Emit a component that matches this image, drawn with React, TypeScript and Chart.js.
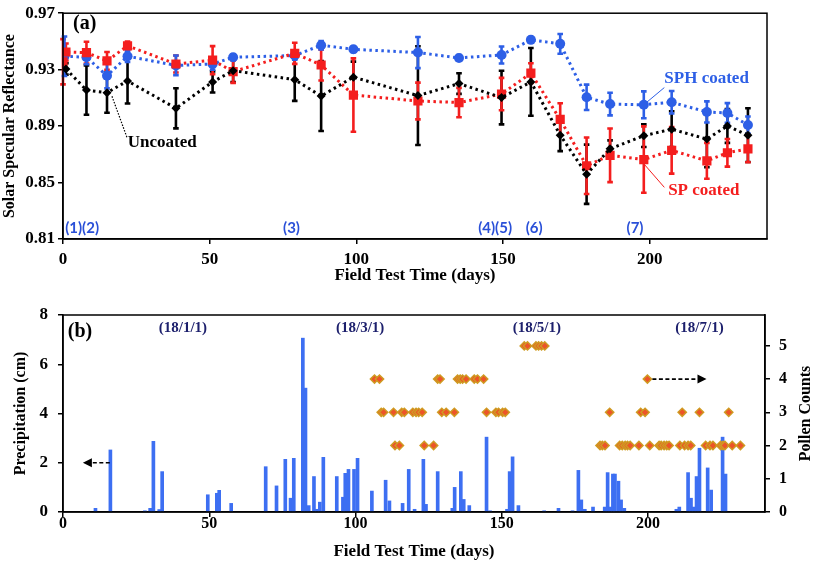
import React, { useEffect, useRef } from "react";
import { Chart, registerables } from "chart.js";
Chart.register(...registerables);

const SERIF = "'Liberation Serif', 'Times New Roman', serif";
const SANS = "Lato, 'Open Sans', sans-serif";

// ---------- Panel (a) data ----------
const xTicks = [0, 50, 100, 150, 200];
const reflTicks = [0.81, 0.85, 0.89, 0.93, 0.97];

const uncDays = [1, 8, 15, 22, 38.5, 51, 58, 79, 88, 99, 121, 135, 149.5, 159.5, 169.5, 178.5, 186.5, 198, 207.5, 219.5, 226.5, 233.5];
const uncVals = [0.9305, 0.9155, 0.9137, 0.922, 0.9026, 0.9213, 0.9293, 0.9229, 0.9113, 0.9247, 0.9116, 0.9201, 0.9102, 0.9213, 0.8836, 0.8559, 0.8739, 0.8832, 0.8878, 0.8808, 0.8901, 0.8836];
const uncErr = [0.004, 0.0175, 0.0142, 0.016, 0.0142, 0.0075, 0.008, 0.015, 0.0248, 0.011, 0.035, 0.0073, 0.019, 0.024, 0.0113, 0.021, 0.006, 0.008, 0.0127, 0.02, 0.012, 0.019];

const spDays = [0, 1, 8, 15, 22, 38.5, 51, 58, 79, 88, 99, 121, 135, 149.5, 159.5, 169.5, 178.5, 186.5, 198, 207.5, 219.5, 226.5, 233.5];
const spVals = [0.9356, 0.9425, 0.9421, 0.9362, 0.9469, 0.934, 0.9367, 0.9286, 0.9416, 0.9333, 0.912, 0.9078, 0.9067, 0.9127, 0.9275, 0.8947, 0.8619, 0.8693, 0.8663, 0.8728, 0.8654, 0.8711, 0.8739];
const spErr = [0.016, 0.006, 0.0077, 0.0063, 0.003, 0.006, 0.01, 0.008, 0.0075, 0.011, 0.026, 0.013, 0.0104, 0.0115, 0.007, 0.0115, 0.02, 0.019, 0.0235, 0.0165, 0.0127, 0.0098, 0.0095];

const sphDays = [0.5, 8, 15, 22, 38.5, 51, 58, 79, 88, 99, 121, 135, 149.5, 159.5, 169.5, 178.5, 186.5, 198, 207.5, 219.5, 226.5, 233.5];
const sphVals = [0.9395, 0.9388, 0.9257, 0.9395, 0.933, 0.934, 0.9388, 0.940, 0.9473, 0.9444, 0.9421, 0.9383, 0.9404, 0.9511, 0.9483, 0.9104, 0.9056, 0.9051, 0.9069, 0.9, 0.8993, 0.8908];
const sphErr = [0.014, 0.005, 0.009, 0.004, 0.007, 0.004, 0.002, 0.003, 0.003, 0.002, 0.011, 0.002, 0.006, 0.002, 0.007, 0.009, 0.008, 0.0095, 0.008, 0.0075, 0.007, 0.006];

const eventLabels = ["(1)(2)", "(3)", "(4)(5)", "(6)", "(7)"];
const eventDays = [6.5, 77.9, 147.3, 160.6, 195];
const eventLevel = 0.8179;

// ---------- Panel (b) data ----------
const precipTicks = [0, 2, 4, 6, 8];
const pollenTicks = [0, 1, 2, 3, 4, 5];

const precipDays = [11.1, 16.2, 28, 29.8, 30.9, 32.9, 33.9, 49.5, 52.6, 53.4, 57.5, 69.3, 73, 76, 77.8, 78.9, 82, 82.9, 84, 85.8, 86.8, 87.8, 89, 93.6, 95.7, 96.5, 97.6, 99.5, 100.7, 105.6, 110.3, 111.6, 116.1, 118.2, 120.2, 123.2, 124.1, 128.1, 133.1, 133.9, 136, 137, 138.9, 144.8, 146, 151.8, 152.7, 153.7, 155.7, 164.5, 169.4, 174.2, 176.2, 177.2, 178.4, 181.2, 185.2, 186.2, 187.1, 188, 188.7, 189.9, 190.8, 191.9, 209.7, 210.7, 213.7, 214.7, 215.6, 216.6, 217.6, 220.4, 221.6, 225.5, 226.5];
const precipVals = [0.15, 2.52, 0.05, 0.15, 2.87, 0.1, 1.64, 0.7, 0.76, 0.88, 0.35, 1.84, 1.06, 2.14, 0.56, 2.18, 7.06, 5.03, 0.26, 1.44, 0.11, 0.4, 2.22, 1.44, 0.6, 1.57, 1.73, 1.73, 2.18, 0.85, 1.29, 0.45, 0.35, 1.73, 0.11, 2.14, 0.31, 1.64, 0.15, 1.0, 1.64, 0.51, 0.26, 3.04, 0.05, 0.11, 1.64, 2.24, 0.26, 0.05, 0.15, 0.05, 1.69, 0.49, 0.11, 0.2, 0.2, 1.6, 0.2, 1.54, 1.54, 1.25, 0.49, 0.15, 0.11, 0.2, 1.6, 0.56, 0.2, 1.44, 2.59, 1.79, 0.89, 3.04, 1.54];

const pollen5Days = [157.7, 158.8, 161.7, 162.6, 163.6, 164.7];
const pollen4Days = [106.5, 108.2, 128.1, 128.9, 134.9, 135.8, 136.6, 137.8, 140.6, 141.7, 143.8, 199.8];
const pollen3Days = [108.8, 109.6, 113, 115.8, 116.7, 119.6, 120.7, 121.6, 122.8, 129.5, 131, 133.8, 144.8, 148, 148.9, 150.3, 151.2, 186.9, 197.5, 199, 211.7, 217.6, 227.6];
const pollen2Days = [113.5, 115, 123.5, 126.7, 183.6, 184.4, 185.3, 190.3, 191.2, 192.2, 193, 193.9, 196.9, 200.6, 203.8, 204.5, 205.5, 206.4, 207.2, 210.9, 212.5, 213.7, 214.6, 219.7, 221.2, 222.2, 224.8, 225.6, 226.3, 228.8, 231.6];

const dateLabels = ["(18/1/1)", "(18/3/1)", "(18/5/1)", "(18/7/1)"];
const dateDays = [41, 101.6, 162, 217.6];
const dateLevel = 7.45;

const BLUE = "#2d5fe6";
const RED = "#f41e1e";

function txt(ctx: any, s: string, x: number, y: number, font: string, color: string, align: any = "center") {
  ctx.save();
  ctx.font = font;
  ctx.fillStyle = color;
  ctx.textAlign = align;
  ctx.textBaseline = "middle";
  ctx.fillText(s, x, y);
  ctx.restore();
}

function line(ctx: any, x1: number, y1: number, x2: number, y2: number, color: string, lw: number, dash: number[]) {
  ctx.save();
  ctx.strokeStyle = color;
  ctx.lineWidth = lw;
  ctx.setLineDash(dash);
  ctx.beginPath();
  ctx.moveTo(x1, y1);
  ctx.lineTo(x2, y2);
  ctx.stroke();
  ctx.restore();
}

function arrow(ctx: any, x1: number, y1: number, x2: number, y2: number) {
  const ang = Math.atan2(y2 - y1, x2 - x1);
  const hl = 9;
  const bx = x2 - hl * Math.cos(ang);
  const by = y2 - hl * Math.sin(ang);
  line(ctx, x1, y1, bx, by, "#000", 1.6, [4, 2.5]);
  ctx.save();
  ctx.fillStyle = "#000";
  ctx.beginPath();
  ctx.moveTo(x2, y2);
  ctx.lineTo(bx - 4.5 * Math.sin(ang), by + 4.5 * Math.cos(ang));
  ctx.lineTo(bx + 4.5 * Math.sin(ang), by - 4.5 * Math.cos(ang));
  ctx.closePath();
  ctx.fill();
  ctx.restore();
}

const tickFont = (size: number) => ({ family: SERIF, size, weight: "bold" as const });

function TopChart() {
  const ref = useRef<HTMLCanvasElement>(null);
  useEffect(() => {
    const mk = (d: number[], v: number[]) => d.map((x, i) => ({ x, y: v[i] }));
    const plugin = {
      id: "topDecor",
      beforeDatasetsDraw(chart: any) {
        const { ctx, scales } = chart;
        const x = scales.x, y = scales.y;
        chart.data.datasets.forEach((ds: any) => {
          const errs = ds.errs;
          ctx.save();
          ctx.strokeStyle = ds.borderColor;
          ctx.lineWidth = 2.6;
          ds.data.forEach((p: any, j: number) => {
            const px = x.getPixelForValue(p.x);
            const a = y.getPixelForValue(p.y + errs[j]);
            const b = y.getPixelForValue(p.y - errs[j]);
            ctx.beginPath();
            ctx.moveTo(px, a); ctx.lineTo(px, b);
            ctx.moveTo(px - 2.8, a); ctx.lineTo(px + 2.8, a);
            ctx.moveTo(px - 2.8, b); ctx.lineTo(px + 2.8, b);
            ctx.stroke();
          });
          ctx.restore();
        });
      },
      afterDraw(chart: any) {
        const { ctx, chartArea: ca, scales } = chart;
        const x = scales.x, y = scales.y;
        ctx.save();
        ctx.strokeStyle = "#000";
        ctx.lineWidth = 1.5;
        ctx.strokeRect(ca.left, ca.top, ca.right - ca.left, ca.bottom - ca.top);
        ctx.restore();
        txt(ctx, "(a)", x.getPixelForValue(7.4), y.getPixelForValue(0.9625), `bold 20px ${SERIF}`, "#000");
        eventLabels.forEach((s, i) =>
          txt(ctx, s, x.getPixelForValue(eventDays[i]), y.getPixelForValue(eventLevel), `bold 15px ${SANS}`, "#2a50d8")
        );
        line(ctx, x.getPixelForValue(16.7), y.getPixelForValue(0.9111), x.getPixelForValue(21.8), y.getPixelForValue(0.882), "#000", 1.2, [1.5, 1.5]);
        txt(ctx, "Uncoated", x.getPixelForValue(22.1), y.getPixelForValue(0.8785), `bold 17px ${SERIF}`, "#000", "left");
        line(ctx, x.getPixelForValue(205), y.getPixelForValue(0.9173), x.getPixelForValue(198.6), y.getPixelForValue(0.9062), BLUE, 1, []);
        txt(ctx, "SPH coated", x.getPixelForValue(205), y.getPixelForValue(0.9236), `bold 17px ${SERIF}`, BLUE, "left");
        line(ctx, x.getPixelForValue(205), y.getPixelForValue(0.8466), x.getPixelForValue(198.3), y.getPixelForValue(0.8626), RED, 1, []);
        txt(ctx, "SP coated", x.getPixelForValue(206.3), y.getPixelForValue(0.844), `bold 17px ${SERIF}`, RED, "left");
      },
    };
    const common = { borderDash: [2.5, 3.5], borderWidth: 3, pointBorderWidth: 0, fill: false, tension: 0 };
    const chart = new Chart(ref.current!, {
      type: "line",
      data: {
        datasets: [
          { ...common, label: "Uncoated", data: mk(uncDays, uncVals), errs: uncErr, borderColor: "#000", backgroundColor: "#000", pointBackgroundColor: "#000", pointStyle: "rectRot", pointRadius: 4.5 } as any,
          { ...common, label: "SP coated", data: mk(spDays, spVals), errs: spErr, borderColor: RED, backgroundColor: RED, pointBackgroundColor: RED, pointStyle: "rect", pointRadius: 6.5 } as any,
          { ...common, label: "SPH coated", data: mk(sphDays, sphVals), errs: sphErr, borderColor: BLUE, backgroundColor: BLUE, pointBackgroundColor: BLUE, pointStyle: "circle", pointRadius: 5 } as any,
        ],
      },
      options: {
        responsive: false,
        animation: false,
        layout: { padding: { left: 0, right: 46, top: 8, bottom: 0 } },
        plugins: { legend: { display: false }, tooltip: { enabled: false } },
        scales: {
          x: {
            type: "linear", min: 0, max: 240,
            afterBuildTicks: (s: any) => { s.ticks = xTicks.map((v) => ({ value: v })); },
            afterFit: (s: any) => { s.height = 53; },
            grid: { drawOnChartArea: false, drawTicks: true, tickLength: 5, color: "#000", lineWidth: 1.5 },
            border: { display: true, color: "#000", width: 1.5 },
            ticks: { font: tickFont(17), color: "#000", padding: 5, maxRotation: 0 },
            title: { display: true, text: "Field Test Time (days)", font: tickFont(17), color: "#000", padding: { top: 0, bottom: 6 } },
          },
          y: {
            type: "linear", min: 0.81, max: 0.97,
            afterBuildTicks: (s: any) => { s.ticks = reflTicks.map((v) => ({ value: v })); },
            afterFit: (s: any) => { s.width = 63; },
            grid: { drawOnChartArea: false, drawTicks: true, tickLength: 5, color: "#000", lineWidth: 1.5 },
            border: { display: true, color: "#000", width: 1.5 },
            ticks: { font: tickFont(17), color: "#000", padding: 3, callback: (v: any) => Number(v).toFixed(2) },
            title: { display: true, text: "Solar Specular Reflectance", font: tickFont(16), color: "#000", padding: 0 },
          },
        },
      },
      plugins: [plugin],
    } as any);
    return () => chart.destroy();
  }, []);
  return <canvas ref={ref} width={813} height={292} style={{ display: "block", width: 813, height: 292 }} />;
}

function BottomChart() {
  const ref = useRef<HTMLCanvasElement>(null);
  useEffect(() => {
    const pts = (d: number[], level: number) => d.map((x) => ({ x, y: level }));
    const pollenData = [...pts(pollen2Days, 2), ...pts(pollen3Days, 3), ...pts(pollen4Days, 4), ...pts(pollen5Days, 5)];
    const plugin = {
      id: "botDecor",
      afterDraw(chart: any) {
        const { ctx, chartArea: ca, scales } = chart;
        const x = scales.x, y = scales.y, y1 = scales.y1;
        ctx.save();
        ctx.strokeStyle = "#000";
        ctx.lineWidth = 1.5;
        ctx.strokeRect(ca.left, ca.top, ca.right - ca.left, ca.bottom - ca.top);
        ctx.restore();
        txt(ctx, "(b)", x.getPixelForValue(5.8), y.getPixelForValue(7.3), `bold 20px ${SERIF}`, "#000");
        dateLabels.forEach((s, i) =>
          txt(ctx, s, x.getPixelForValue(dateDays[i]), y.getPixelForValue(dateLevel), `bold 15px ${SERIF}`, "#1c1f6c")
        );
        arrow(ctx, x.getPixelForValue(16), y.getPixelForValue(2), x.getPixelForValue(6.8), y.getPixelForValue(2));
        arrow(ctx, x.getPixelForValue(201.5), y1.getPixelForValue(4), x.getPixelForValue(220), y1.getPixelForValue(4));
        ctx.save();
        ctx.translate(ca.right + 41, (ca.top + ca.bottom) / 2);
        ctx.rotate(-Math.PI / 2);
        txt(ctx, "Pollen Counts", 0, 0, `bold 16px ${SERIF}`, "#000");
        ctx.restore();
      },
    };
    const chart = new Chart(ref.current!, {
      type: "bar",
      data: {
        datasets: [
          {
            type: "line", label: "Pollen", data: pollenData, yAxisID: "y1", showLine: false,
            pointStyle: "rectRot", pointRadius: 4.2, pointBackgroundColor: "#ec5528", pointBorderColor: "#cf9c22", pointBorderWidth: 1.4,
          } as any,
          {
            type: "bar", label: "Precipitation", data: precipDays.map((d, i) => ({ x: d, y: precipVals[i] })), yAxisID: "y",
            backgroundColor: "#3d6ff2", barThickness: 3, grouped: false,
          } as any,
        ],
      },
      options: {
        responsive: false,
        animation: false,
        layout: { padding: { left: 0, right: 0, top: 22, bottom: 0 } },
        plugins: { legend: { display: false }, tooltip: { enabled: false } },
        scales: {
          x: {
            type: "linear", min: 0, max: 240, offset: false,
            afterBuildTicks: (s: any) => { s.ticks = xTicks.map((v) => ({ value: v })); },
            afterFit: (s: any) => { s.height = 50; },
            grid: { drawOnChartArea: false, drawTicks: true, tickLength: 5, color: "#000", lineWidth: 1.5, offset: false },
            border: { display: true, color: "#000", width: 1.5 },
            ticks: { font: tickFont(16), color: "#000", padding: -3, maxRotation: 0 },
            title: { display: true, text: "Field Test Time (days)", font: tickFont(17), color: "#000", padding: { top: 0, bottom: 0 } },
          },
          y: {
            type: "linear", position: "left", min: 0, max: 8,
            afterBuildTicks: (s: any) => { s.ticks = precipTicks.map((v) => ({ value: v })); },
            afterFit: (s: any) => { s.width = 63; },
            grid: { drawOnChartArea: false, drawTicks: true, tickLength: 5, color: "#000", lineWidth: 1.5 },
            border: { display: true, color: "#000", width: 1.5 },
            ticks: { font: tickFont(17), color: "#000", padding: 10 },
            title: { display: true, text: "Precipitation (cm)", font: tickFont(16), color: "#000", padding: { top: 11, bottom: 0 } },
          },
          y1: {
            type: "linear", position: "right", min: 0, max: 5.93,
            afterBuildTicks: (s: any) => { s.ticks = pollenTicks.map((v) => ({ value: v })); },
            afterFit: (s: any) => { s.width = 48; },
            grid: { drawOnChartArea: false, drawTicks: true, tickLength: 5, color: "#000", lineWidth: 1.5 },
            border: { display: true, color: "#000", width: 1.5 },
            ticks: { font: tickFont(16), color: "#000", padding: 9 },
          },
        },
      },
      plugins: [plugin],
    } as any);
    return () => chart.destroy();
  }, []);
  return <canvas ref={ref} width={813} height={269} style={{ display: "block", width: 813, height: 269 }} />;
}

export default function App() {
  return (
    <div style={{ position: "absolute", left: 0, top: 0, width: 813, height: 562, background: "#fff" }}>
      <div style={{ position: "absolute", left: 0, top: 0 }}>
        <TopChart />
      </div>
      <div style={{ position: "absolute", left: 0, top: 293 }}>
        <BottomChart />
      </div>
    </div>
  );
}
